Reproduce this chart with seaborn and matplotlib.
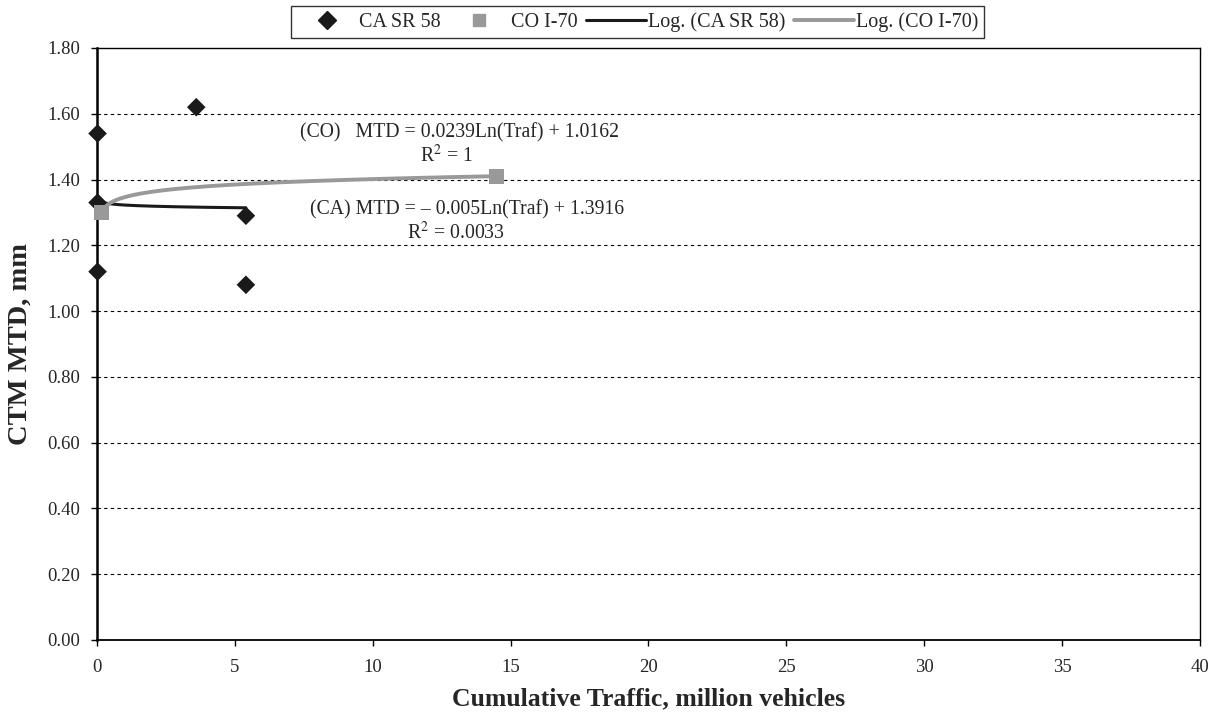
import numpy as np
import pandas as pd
import matplotlib
matplotlib.use("Agg")
import matplotlib.pyplot as plt
from matplotlib.lines import Line2D
import seaborn as sns

# Measured sections: cumulative traffic (million vehicles) vs CTM mean texture depth (mm)
ca_traffic = [0.02, 0.02, 0.02, 3.6, 5.4, 5.4]
ca_mtd = [1.54, 1.33, 1.12, 1.62, 1.29, 1.08]
co_traffic = [0.15, 14.5]
co_mtd = [1.30, 1.41]

# Logarithmic trend coefficients (traffic in vehicles)
ca_slope, ca_icept = -0.005, 1.3916
co_slope, co_icept = 0.0239, 1.0162

x_ticks = [0, 5, 10, 15, 20, 25, 30, 35, 40]
y_ticks = [0.00, 0.20, 0.40, 0.60, 0.80, 1.00, 1.20, 1.40, 1.60, 1.80]

sns.set_theme(style="white")
plt.rcParams["font.family"] = ["Liberation Serif", "DejaVu Serif"]
plt.rcParams["mathtext.fontset"] = "stix"

fig = plt.figure(figsize=(12.22, 7.19), dpi=100)
ax = fig.add_axes([97 / 1222, 1 - 640 / 719, (1200 - 97) / 1222, (640 - 48) / 719])

def trend(xs, slope, icept):
    xs = np.geomspace(min(xs), max(xs), 200)
    return pd.DataFrame({"x": xs, "y": slope * np.log(xs * 1e6) + icept})

ca_fit = trend(ca_traffic, ca_slope, ca_icept)
co_fit = trend(co_traffic, co_slope, co_icept)

sns.lineplot(data=ca_fit, x="x", y="y", ax=ax, color="#1a1a1a", linewidth=2.2, zorder=3)
sns.lineplot(data=co_fit, x="x", y="y", ax=ax, color="#999999", linewidth=2.8, zorder=3)
sns.scatterplot(x=ca_traffic, y=ca_mtd, ax=ax, marker="D", s=90, color="#1a1a1a",
                edgecolor="none", zorder=4, clip_on=False)
sns.scatterplot(x=co_traffic, y=co_mtd, ax=ax, marker="s", s=120, color="#999999",
                edgecolor="none", zorder=5, clip_on=False)

ax.set_xlim(0, 40)
ax.set_ylim(0, 1.8)
ax.set_xticks(x_ticks)
ax.set_xticklabels([str(v) for v in x_ticks], fontsize=13.5)
ax.set_yticks(y_ticks)
ax.set_yticklabels([f"{v:.2f}" for v in y_ticks], fontsize=13.5)
ax.tick_params(axis="x", direction="out", length=4, width=1, color="black",
               bottom=True, pad=10)
ax.tick_params(axis="y", direction="out", length=4, width=1, color="black",
               left=True, pad=8)
for v in y_ticks[1:-1]:
    ax.axhline(v, color="black", linestyle=(0, (3, 3)), linewidth=0.8, zorder=1)
for sp in ax.spines.values():
    sp.set_color("black")
    sp.set_linewidth(1.0)
ax.spines["left"].set_linewidth(1.8)
ax.spines["bottom"].set_linewidth(1.3)

ax.set_xlabel("Cumulative Traffic, million vehicles", fontsize=18.5, fontweight="bold", labelpad=8)
ax.set_ylabel("CTM MTD, mm", fontsize=20.5, fontweight="bold", labelpad=11)

ax.text(7.36, 1.5416, "(CO)   MTD = 0.0239Ln(Traf) + 1.0162", fontsize=14.2, va="center")
ax.text(12.69, 1.4716, r"R$^2$ = 1", fontsize=14.2, va="center", ha="center")
ax.text(7.72, 1.3075, "(CA) MTD = \u2013 0.005Ln(Traf) + 1.3916", fontsize=14.2, va="center")
ax.text(13.02, 1.2375, r"R$^2$ = 0.0033", fontsize=14.2, va="center", ha="center")

handles = [
    Line2D([], [], marker="D", color="#1a1a1a", linestyle="none", markersize=8.7),
    Line2D([], [], marker="s", color="#999999", linestyle="none", markersize=8.5),
    Line2D([], [], color="#1a1a1a", linewidth=2.2),
    Line2D([], [], color="#999999", linewidth=2.8),
]
labels = ["CA SR 58", "CO I-70", "Log. (CA SR 58)", "Log. (CO I-70)"]
leg = fig.legend(handles, labels, loc="upper center", bbox_to_anchor=(637.5 / 1222, 1 - 6 / 719),
                 ncol=4, fontsize=14.5, frameon=True, fancybox=False, edgecolor="black",
                 handlelength=3.0, handletextpad=0.1, columnspacing=0.4,
                 borderpad=0.3, borderaxespad=0)
leg.get_frame().set_linewidth(1.0)

fig.savefig("out.png", dpi=100)
